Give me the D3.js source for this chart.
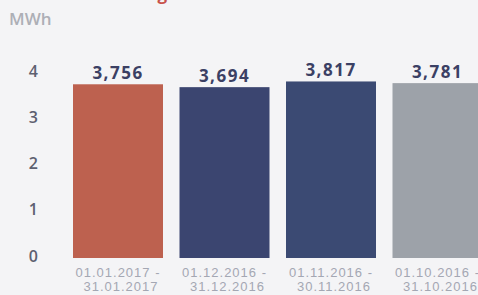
<!DOCTYPE html>
<html>
<head>
  <meta charset="utf-8">
  <title>Verbrauch</title>
  <script src="https://d3js.org/d3.v7.min.js"></script>
  <style>
    body { margin: 0; background: #f4f4f6; }
    svg { display: block; }
  </style>
</head>
<body>
  <script>
    // period labels, first line / second line
    var periodsFrom = ['01.01.2017 -', '01.12.2016 -', '01.11.2016 -', '01.10.2016 -'];
    var periodsTo = ['31.01.2017', '31.12.2016', '30.11.2016', '31.10.2016'];
    var values = [3.756, 3.694, 3.817, 3.781];
    var valueLabels = ['3,756', '3,694', '3,817', '3,781'];
    var barColors = ['#bd614f', '#3b4570', '#3b4a73', '#9da2a9'];
    var yTicks = [0, 1, 2, 3, 4];

    var width = 478, height = 295;

    var svg = d3.select('body').append('svg')
      .attr('width', width)
      .attr('height', height);

    svg.append('rect')
      .attr('width', width)
      .attr('height', height)
      .attr('fill', '#f4f4f6');

    // title, mostly cut off at the top of the photo
    svg.append('text')
      .attr('x', 4)
      .attr('y', 0)
      .attr('fill', '#c8524a')
      .style('font', 'bold 17px "Open Sans", sans-serif')
      .text('Ihr Verbrauchsvergleich');

    svg.append('text')
      .attr('x', 9)
      .attr('y', 25)
      .attr('fill', '#adafb6')
      .style('font', '600 17px "Open Sans", sans-serif')
      .text('MWh');

    var x = d3.scaleBand()
      .domain(periodsTo)
      .range([73, 482.5])
      .paddingInner(0.155)
      .paddingOuter(0);

    var y = d3.scaleLinear()
      .domain([0, 4])
      .range([258, 73]);

    // y axis labels
    var yAxis = d3.axisLeft(y)
      .tickValues(yTicks)
      .tickSize(0)
      .tickPadding(0)
      .tickFormat(d3.format('d'));

    var yg = svg.append('g')
      .attr('transform', 'translate(38,-2)')
      .call(yAxis);
    yg.select('.domain').remove();
    yg.selectAll('text')
      .attr('fill', '#5d6070')
      .style('font', '600 16px "Open Sans", sans-serif');

    var bars = svg.selectAll('g.bar')
      .data(values)
      .enter()
      .append('g')
      .attr('class', 'bar');

    bars.append('rect')
      .attr('x', function (d, i) { return x(periodsTo[i]); })
      .attr('y', function (d) { return y(d); })
      .attr('width', x.bandwidth())
      .attr('height', function (d) { return y(0) - y(d); })
      .attr('fill', function (d, i) { return barColors[i]; });

    bars.append('text')
      .attr('x', function (d, i) { return x(periodsTo[i]) + x.bandwidth() / 2; })
      .attr('y', function (d) { return y(d) - 5; })
      .attr('text-anchor', 'middle')
      .attr('fill', '#3b4064')
      .style('font', 'bold 17px "Open Sans", sans-serif')
      .style('letter-spacing', '1.5px')
      .text(function (d, i) { return valueLabels[i]; });

    var dates = bars.append('text')
      .attr('text-anchor', 'middle')
      .attr('fill', '#a4a7b3')
      .style('font', '13px "Liberation Sans", sans-serif')
      .style('letter-spacing', '1px');

    dates.append('tspan')
      .attr('x', function (d, i) { return x(periodsTo[i]) + x.bandwidth() / 2; })
      .attr('y', 277)
      .text(function (d, i) { return periodsFrom[i]; });

    dates.append('tspan')
      .attr('x', function (d, i) { return x(periodsTo[i]) + x.bandwidth() / 2 + 3; })
      .attr('y', 291)
      .text(function (d, i) { return periodsTo[i]; });
  </script>
</body>
</html>
